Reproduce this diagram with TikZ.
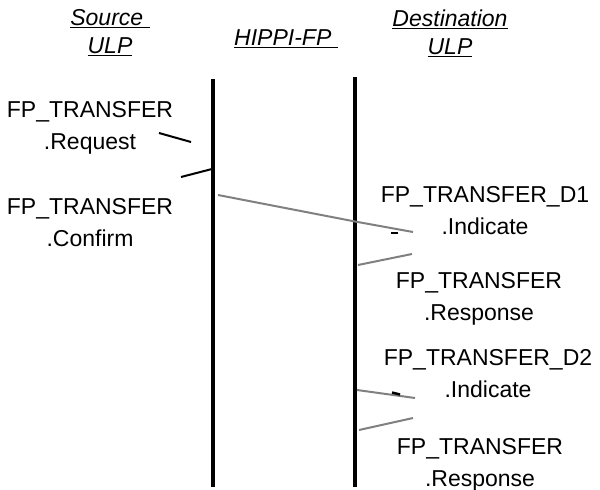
\documentclass[tikz,border=0pt]{standalone}
\usepackage{fontspec}
\setmainfont{Liberation Sans}
\usetikzlibrary{positioning}

\begin{document}
\begin{tikzpicture}[x=1pt, y=-1pt,
    lbl/.style={align=center, inner sep=0pt, font=\fontsize{23}{32}\selectfont},
    head/.style={align=center, inner sep=0pt, font=\fontsize{23}{28}\selectfont\itshape},
    life/.style={line width=4pt},
    prim/.style={line width=2pt},
    reply/.style={line width=2pt, gray}]
    \useasboundingbox (0,0) rectangle (600,490);

    % column headings
    \node[head] (srcHead) at (110, 33) {\underline{Source\ }\\\underline{ULP}};
    \node[head] (fpHead) at (286, 39) {\underline{HIPPI-FP\ }};
    \node[head] (dstHead) at (450, 33) {\underline{Destination}\\\underline{ULP}};

    % lifelines
    \coordinate (srcT) at (213, 79);
    \coordinate (srcB) at (213, 487);
    \coordinate (dstT) at (355, 77);
    \coordinate (dstB) at (355, 487);
    \draw[life] (srcT) -- (srcB);
    \draw[life] (dstT) -- (dstB);

    % primitives
    \node[lbl] (req) at (90, 128) {FP\_TRANSFER\\.Request};
    \node[lbl] (conf) at (90, 223) {FP\_TRANSFER\\.Confirm};
    \node[lbl] (indA) at (485, 211) {FP\_TRANSFER\_D1\\.Indicate};
    \node[lbl] (respA) at (479, 299) {FP\_TRANSFER\\.Response};
    \node[lbl] (indB) at (488, 374) {FP\_TRANSFER\_D2\\.Indicate};
    \node[lbl] (respB) at (480, 465) {FP\_TRANSFER\\.Response};

    \coordinate (r1) at (159, 133);
    \coordinate (r2) at (191, 142);
    \coordinate (c1) at (181, 177);
    \coordinate (c2) at (212, 169);
    \draw[prim] (r1) -- (r2);
    \draw[prim] (c1) -- (c2);

    \coordinate (a1) at (218, 195);
    \coordinate (a2) at (355, 221.5);
    \coordinate (a3) at (413, 232);
    \coordinate (b1) at (358, 265);
    \coordinate (b2) at (412, 254);
    \coordinate (d1) at (357, 390);
    \coordinate (d2) at (415, 398);
    \coordinate (e1) at (359, 430);
    \coordinate (e2) at (413, 418);
    \draw[reply] (a1) -- (a2) -- (a3);
    \draw[reply] (b1) -- (b2);
    \draw[reply] (d1) -- (d2);
    \draw[reply] (e1) -- (e2);

    % leftover marks
    \coordinate (m1) at (391, 233);
    \coordinate (m2) at (398, 233);
    \coordinate (n1) at (392, 392.5);
    \coordinate (n2) at (400, 394.5);
    \draw[line width=2.5pt] (m1) -- (m2);
    \draw[line width=2.5pt] (n1) -- (n2);
\end{tikzpicture}
\end{document}
